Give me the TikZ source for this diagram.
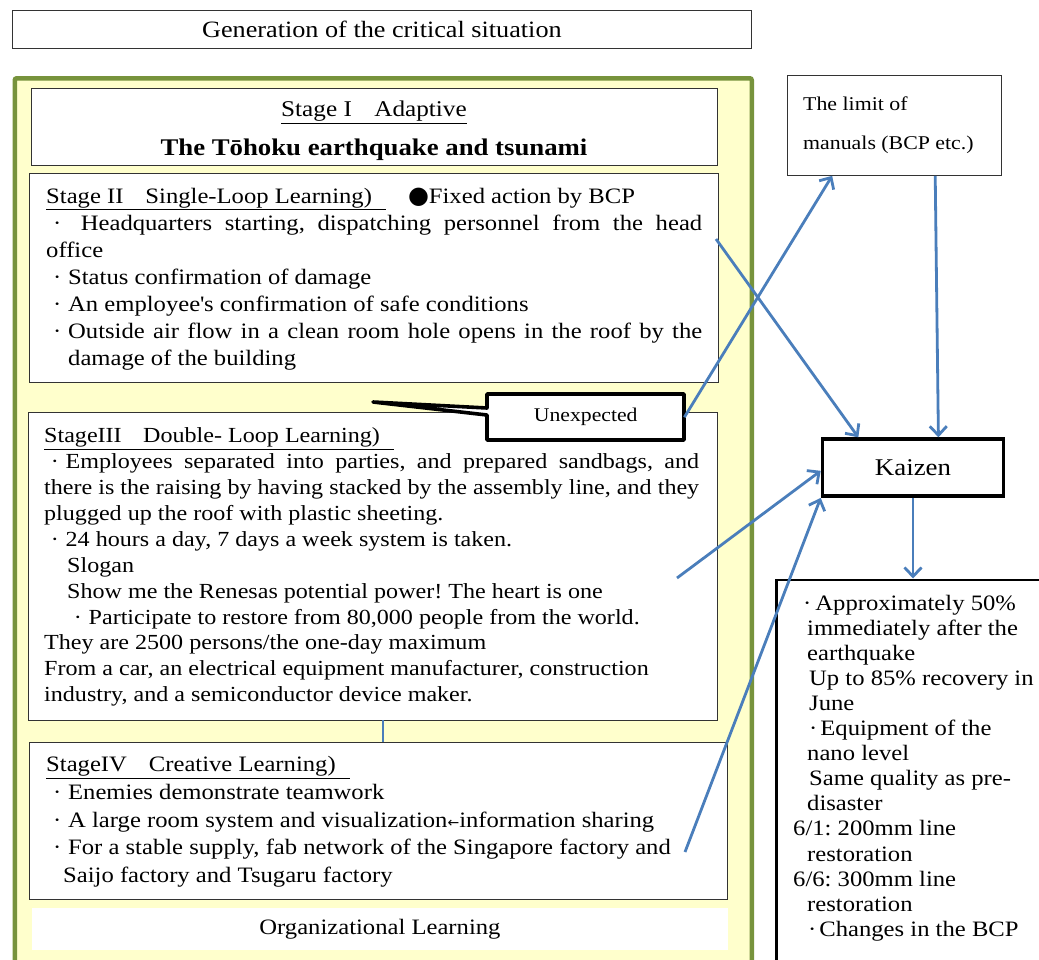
\documentclass[tikz,border=0pt]{standalone}
\usepackage{fontspec}
\setmainfont{Liberation Serif}[FakeStretch=1.12]
\newfontfamily\symfont{DejaVu Sans}
\usetikzlibrary{arrows.meta,positioning}

\definecolor{olivegreen}{HTML}{77933C}
\definecolor{paleyellow}{HTML}{FFFFCC}
\definecolor{arrowblue}{HTML}{4A7EBB}

\newcommand{\bul}{\makebox[1em][c]{·}}
\newcommand{\bodyfont}[1]{\fontsize{22}{#1}\selectfont}
\frenchspacing

\begin{document}
\begin{tikzpicture}[x=1pt,y=-1pt,
  box/.style={draw=black!80, line width=0.8pt, fill=white, inner sep=0pt, anchor=north west},
  txt/.style={inner sep=0pt, anchor=base west, align=left},
  flow/.style={draw=arrowblue, line width=2.8pt, -{Straight Barb[length=9pt,width=17pt]}}]
\useasboundingbox (0,0) rectangle (1039,959);

% header
\node[box, minimum width=739pt, minimum height=38pt, font=\fontsize{23.4}{28}\selectfont] (title) at (12,10) {Generation of the critical situation};

% organizational learning frame
\node[draw=olivegreen, line width=4.5pt, fill=paleyellow, rounded corners=2pt, inner sep=0pt,
      minimum width=737pt, minimum height=900pt, anchor=north west] (frame) at (12.5,76) {};

% text nodes sit on the baseline of their last line
\node[box, minimum width=686pt, minimum height=77pt] (s1) at (31,87.5) {};
\node[anchor=base, align=center, inner sep=0pt, font=\fontsize{22.5}{38.3}\selectfont] (s1txt) at (374,155)
  {\underline{Stage I\quad Adaptive}\\ \textbf{\fontsize{23.9}{38.3}\selectfont The Tōhoku earthquake and tsunami}};

\node[box, minimum width=689pt, minimum height=209pt] (s2) at (29,172.7) {};
\node[txt, font=\bodyfont{27}] (s2txt) at (46,365) {%
  \underline{Stage II\quad Single-Loop Learning)\hspace{14pt}}\hspace{22pt}{\symfont\fontsize{24}{24}\selectfont ●}Fixed action by BCP\\
  \makebox[656pt][s]{\bul\ Headquarters starting, dispatching personnel from the head}\\
  office\\
  \bul Status confirmation of damage\\
  \bul An employee\textquotesingle s confirmation of safe conditions\\
  \makebox[656pt][s]{\bul Outside air flow in a clean room hole opens in the roof by the}\\
  \hspace*{22pt}damage of the building};

\node[box, minimum width=689pt, minimum height=308pt] (s3) at (27.6,412.3) {};
\node[txt, font=\fontsize{21.5}{25.9}\selectfont] (s3txt) at (44,701.7) {%
  \underline{StageIII\quad Double- Loop Learning)\hspace{14pt}}\\
  \makebox[655pt][s]{\bul Employees separated into parties, and prepared sandbags, and}\\
  \makebox[655pt][s]{there is the raising by having stacked by the assembly line, and they}\\
  plugged up the roof with plastic sheeting.\\
  \bul 24 hours a day, 7 days a week system is taken.\\
  \hspace*{23pt}Slogan\\
  \hspace*{23pt}Show me the Renesas potential power! The heart is one\\
  \hspace*{23pt}\bul Participate to restore from 80,000 people from the world.\\
  They are 2500 persons/the one-day maximum\\
  From a car, an electrical equipment manufacturer, construction\\
  industry, and a semiconductor device maker.};

\node[box, minimum width=698pt, minimum height=157.6pt] (s4) at (29,741.7) {};
\node[txt, font=\bodyfont{27.7}] (s4txt) at (46,882.5) {%
  \underline{StageIV\quad Creative Learning)\hspace{14pt}}\\
  \bul Enemies demonstrate teamwork\\
  \bul A large room system and visualization{\symfont\fontsize{14}{14}\selectfont ←}information sharing\\
  \bul For a stable supply, fab network of the Singapore factory and\\
  \hspace*{17pt}Saijo factory and Tsugaru factory};

\node[fill=white, inner sep=0pt, anchor=north west, minimum width=696.5pt, minimum height=42pt,
      font=\fontsize{22}{26}\selectfont] (orglearn) at (31.5,908) {Organizational Learning};

\coordinate (link) at (383,720);
\draw[arrowblue, line width=2.4pt] (link) -- (link |- s4.north);

% callout
\draw[line width=3.6pt, fill=white, line join=round]
  (487,394) -- (684,394) -- (684,440) -- (487,440) -- (487,415) -- (373,402) -- (487,408) -- cycle;
\node[inner sep=0pt, anchor=north west, minimum width=197pt, minimum height=46pt,
      font=\fontsize{19.4}{22}\selectfont] (unexp) at (487,394) {Unexpected};

% right column
\node[box, minimum width=214pt, minimum height=100pt] (limit) at (787,75) {};
\node[txt, font=\fontsize{19.5}{39.3}\selectfont] (limittxt) at (803,149.3) {The limit of\\ manuals (BCP etc.)};

\node[box, draw=black, line width=3.6pt, minimum width=181pt, minimum height=57pt,
      font=\fontsize{24}{28}\selectfont] (kaizen) at (820.7,437.3) {Kaizen};

\node[box, draw=black, line width=2.6pt, minimum width=300pt, minimum height=420pt] (result) at (775,578.5) {};
\node[txt, font=\fontsize{22}{25.1}\selectfont] (resulttxt) at (793,936.3) {%
  \hspace*{10pt}·\hspace{4pt}Approximately 50\%\\
  \hspace*{14pt}immediately after the\\
  \hspace*{14pt}earthquake\\
  \hspace*{16pt}Up to 85\% recovery in\\
  \hspace*{16pt}June\\
  \hspace*{16pt}·\hspace{3pt}Equipment of the\\
  \hspace*{14pt}nano level\\
  \hspace*{16pt}Same quality as pre-\\
  \hspace*{14pt}disaster\\
  6/1: 200mm line\\
  \hspace*{14pt}restoration\\
  6/6: 300mm line\\
  \hspace*{14pt}restoration\\
  \hspace*{15pt}·\hspace{3pt}Changes in the BCP};

% connectors
\coordinate (s2out) at (716,239);
\coordinate (s3out) at (677,578);
\coordinate (s4out) at (685,852);
\draw[flow] (s2out) -- (kaizen.151);
\draw[flow] (unexp.east) -- (limit.219);
\draw[flow] (limit.-51) -- (kaizen.50);
\draw[flow] (s3out) -- (kaizen.182);
\draw[flow] (s4out) -- (kaizen.south west);
\draw[flow] (kaizen.south) -- (kaizen.south |- result.north);
\end{tikzpicture}
\end{document}
